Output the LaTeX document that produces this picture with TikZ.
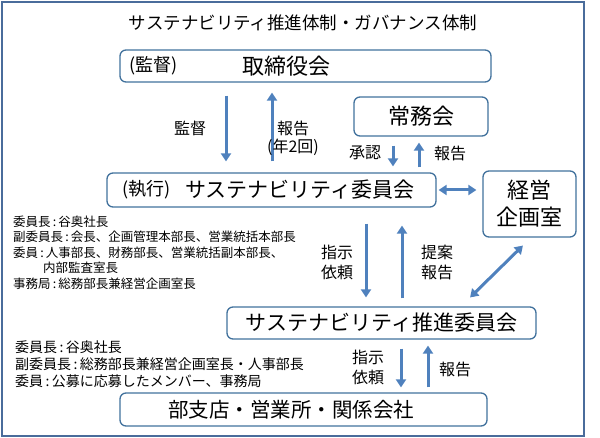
\documentclass[tikz,border=0pt]{standalone}
\usepackage{fontspec}
\setmainfont{Noto Sans CJK JP}
\usetikzlibrary{positioning,arrows.meta,calc}
\definecolor{flowblue}{HTML}{4F81BD}
\definecolor{boxline}{HTML}{41719C}
\definecolor{frameline}{HTML}{4A6C9B}
\newcommand{\fsz}[2]{\fontsize{#1}{#2}\selectfont}

\begin{document}
\begin{tikzpicture}[x=1pt,y=-1pt,
    box/.style={draw=boxline, line width=1.3pt, rounded corners=6pt, inner sep=0pt},
    flow/.style={draw=flowblue, line width=3pt, -{Triangle[length=8pt,width=10pt]}},
    twoway/.style={draw=flowblue, line width=3pt, {Triangle[length=8pt,width=10pt]}-{Triangle[length=8pt,width=10pt]}},
    tag/.style={font=\fsz{16}{19.5}, inner sep=0pt, align=center},
    memo/.style={anchor=north west, inner sep=0pt, align=left}]
  \useasboundingbox (0,0) rectangle (600,438);
  \draw[frameline, line width=1.6pt] (2,2) rectangle (584,436);
  \node[font=\fsz{17.5}{20}] (title) at (303,23) {サステナビリティ推進体制・ガバナンス体制};

  % boxes
  \node[box, minimum width=371pt, minimum height=32pt] (board) at (305.5,66) {};
  \node[font=\fsz{18}{20}, anchor=west, inner sep=0pt] (boardrole) at (129,66) {(監督)};
  \node[font=\fsz{22}{24}] (boardname) at (286,66) {取締役会};
  \node[box, minimum width=134pt, minimum height=39pt, font=\fsz{22}{24}] (jomu) at (421,116.5) {常務会};
  \node[box, minimum width=329pt, minimum height=34pt] (exec) at (271.5,190) {};
  \node[font=\fsz{18}{20}, anchor=west, inner sep=0pt] (execrole) at (122,190) {(執行)};
  \node[font=\fsz{21}{24}, anchor=west, inner sep=0pt] (execname) at (185,190) {サステナビリティ委員会};
  \node[box, minimum width=93pt, minimum height=66pt, font=\fsz{22}{27}, align=center] (plan) at (529.5,204) {経営\\企画室};
  \node[box, minimum width=309pt, minimum height=32pt, font=\fsz{21}{24}] (promo) at (381.5,323) {サステナビリティ推進委員会};
  \node[box, minimum width=367pt, minimum height=33pt] (branch) at (303.5,409.5) {};
  \node[font=\fsz{20.5}{24}] (branchname) at (291,409.5) {部支店・営業所・関係会社};

  % arrow lines
  \coordinate (supx) at (226,0);
  \coordinate (repx) at (272,0);
  \coordinate (appx) at (393,0);
  \coordinate (jrepx) at (419,0);
  \coordinate (ordx) at (366,0);
  \coordinate (propx) at (402,0);
  \coordinate (lordx) at (401,0);
  \coordinate (lrepx) at (428,0);
  \draw[flow, shorten <=13pt, shorten >=11pt] (board.south -| supx) -- (exec.north -| supx);
  \draw[flow, shorten <=11pt, shorten >=10pt] (exec.north -| repx) -- (board.south -| repx);
  \draw[flow, shorten <=9pt, shorten >=6pt] (jomu.south -| appx) -- (exec.north -| appx);
  \draw[flow, shorten <=5pt, shorten >=6pt] (exec.north -| jrepx) -- (jomu.south -| jrepx);
  \draw[twoway, shorten <=2pt, shorten >=6pt] (exec.east) -- (exec.east -| plan.west);
  \draw[flow, shorten <=16pt, shorten >=9pt] (exec.south -| ordx) -- (promo.north -| ordx);
  \draw[flow, shorten <=8pt, shorten >=18pt] (promo.north -| propx) -- (exec.south -| propx);
  \draw[twoway, shorten <=12.7pt, shorten >=11.3pt] ([xshift=79.5pt]promo.north) -- ([xshift=1.5pt]plan.south);
  \draw[flow, shorten <=9pt, shorten >=5pt] (promo.south -| lordx) -- (branch.north -| lordx);
  \draw[flow, shorten <=5pt, shorten >=6pt] (branch.north -| lrepx) -- (promo.south -| lrepx);

  % labels
  \node[tag] (supl) at (190,128) {監督};
  \node[tag, font=\fsz{16}{18}] (repl) at (293,138) {報告\\(年2回)};
  \node[tag] (appl) at (365,153) {承認};
  \node[tag] (jrepl) at (450,153) {報告};
  \node[tag] (ordl) at (337,262.5) {指示\\依頼};
  \node[tag] (propl) at (437,262.5) {提案\\報告};
  \node[tag] (lordl) at (368,367.5) {指示\\依頼};
  \node[tag] (lrepl) at (455,369) {報告};

  % members
  \node[memo, font=\fsz{12.5}{15.5}] (execmembers) at (13,215.5) {委員長\,:\,谷奥社長\\副委員長\,:\,会長、企画管理本部長、営業統括本部長\\委員\,:\,人事部長、財務部長、営業統括副本部長、\\\hspace*{30pt}内部監査室長\\事務局\,:\,総務部長兼経営企画室長};
  \node[memo, font=\fsz{14}{17}] (promomembers) at (15,340.5) {委員長\,:\,谷奥社長\\副委員長\,:\,総務部長兼経営企画室長・人事部長\\委員\,:\,公募に応募したメンバー、事務局};
\end{tikzpicture}
\end{document}
